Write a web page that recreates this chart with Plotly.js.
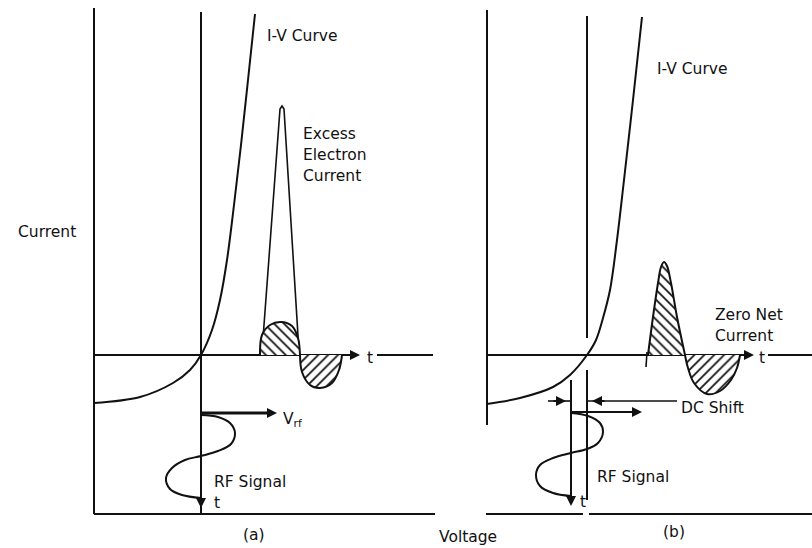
<!DOCTYPE html>
<html>
<head>
<meta charset="utf-8">
<script src="https://cdn.plot.ly/plotly-3.0.1.min.js"></script>
<style>html,body{margin:0;padding:0;background:#fff;}#chart{width:812px;height:548px;}</style>
</head>
<body>
<div id="chart"></div>
<script>
// Diagram coordinates (x to the right, y downward)
// ---------- Panel (a) ----------
const frameA_x = [94, 94, null, 201, 201, null, 94, 435];
const frameA_y = [8, 514, null, 12, 514, null, 514, 514];
const axisA_x = [94, 352, null, 377, 433];
const axisA_y = [355, 355, null, 355, 355];
const ivA_x = [94, 140, 173, 190, 201, 212, 220, 227, 234, 241, 248, 255];
const ivA_y = [403, 397, 383, 370, 355, 330, 300, 260, 205, 145, 80, 14];
const peakA_x = [262, 280, 282, 284, 299];
const peakA_y = [352, 109, 106, 109, 352];
const posLobeA_x = [260, 262, 270, 281, 292, 298, 300];
const posLobeA_y = [355, 335, 325, 322, 326, 338, 355];
const negLobeA_x = [300, 302, 310, 320, 332, 339, 342];
const negLobeA_y = [355, 372, 385, 388, 383, 370, 355];
const rfA_x = [201, 218, 230, 235, 231, 218, 201, 185, 172, 166, 170, 182, 201];
const rfA_y = [415, 417, 423, 433, 444, 451, 456, 460, 468, 478, 489, 495, 498];
const vrfA_x = [201, 270];
const vrfA_y = [413, 413];

// ---------- Panel (b) ----------
const frameB_x = [487, 487, null, 587, 587, null, 587, 587, null, 571, 571, null, 486, 583, null, 589, 812];
const frameB_y = [10, 425, null, 16, 338, null, 370, 500, null, 380, 498, null, 514, 514, null, 514, 514];
const axisB_x = [487, 746, null, 768, 812];
const axisB_y = [355, 355, null, 355, 355];
const ivB_x = [487, 520, 553, 570, 587, 596, 603, 610, 617, 624, 633, 642];
const ivB_y = [404, 398, 387, 375, 355, 340, 318, 290, 240, 180, 100, 17];
const posPeakB_x = [648, 653, 658, 661, 664, 667, 671, 677, 685];
const posPeakB_y = [355, 317, 283, 267, 262, 266, 283, 317, 355];
const tickB_x = [647, 646];
const tickB_y = [352, 367];
const negLobeB_x = [685, 688, 694, 707, 720, 731, 737, 740];
const negLobeB_y = [355, 368, 383, 394, 391, 380, 368, 355];
const rfB_x = [571, 588, 600, 603, 598, 587, 571, 553, 540, 536, 540, 553, 571];
const rfB_y = [413, 416, 423, 432, 443, 449, 453, 458, 465, 475, 486, 493, 496];
const dcShift_x = [548, 571, null, 587, 677];
const dcShift_y = [401, 401, null, 401, 401];
const vrfB_x = [571, 636];
const vrfB_y = [412, 412];

// ---------- Texts ----------
const labelText = ["I-V Curve", "Excess", "Electron", "Current", "V<sub>rf</sub>", "RF Signal", "t", "t",
                   "I-V Curve", "Zero Net", "Current", "DC Shift", "RF Signal", "t", "t",
                   "Current"];
const labelX = [265, 301, 301, 301, 281, 212, 212, 365,
                655, 713, 713, 679, 595, 578, 757,
                16];
const labelY = [36, 134, 155, 176, 420, 482, 503, 358,
                69, 315, 336, 408, 477, 502, 358,
                232];
const captionText = ["(a)", "(b)", "Voltage"];
const captionX = [254, 674, 468];
const captionY = [535, 532, 537];

// Arrow tips and tails
const arrowTipX = [360, 754, 277, 642, 201, 571, 566, 592];
const arrowTipY = [355, 355, 413, 412, 508, 506, 401, 401];
const arrowTailX = [345, 740, 262, 628, 201, 571, 552, 606];
const arrowTailY = [355, 355, 413, 412, 497, 495, 401, 401];

const ink = "#111";
function line(x, y, w, shape) {
  return {x: x, y: y, mode: "lines", type: "scatter", hoverinfo: "skip", showlegend: false,
          line: {color: ink, width: w, shape: shape || "linear", smoothing: 1}};
}
function hatch(x, y, shp) {
  return {x: x, y: y, mode: "lines", type: "scatter", hoverinfo: "skip", showlegend: false,
          fill: "toself", fillcolor: "white",
          fillpattern: {shape: shp, fgcolor: ink, bgcolor: "white", size: 7, solidity: 0.25},
          line: {color: ink, width: 2, shape: "spline", smoothing: 1}};
}

const traces = [
  line(frameA_x, frameA_y, 2),
  line(axisA_x, axisA_y, 2),
  line(ivA_x, ivA_y, 2, "spline"),
  line(peakA_x, peakA_y, 1.6),
  hatch(posLobeA_x, posLobeA_y, "\\"),
  hatch(negLobeA_x, negLobeA_y, "/"),
  line(rfA_x, rfA_y, 2, "spline"),
  line(vrfA_x, vrfA_y, 3),
  line(frameB_x, frameB_y, 2),
  line(axisB_x, axisB_y, 2),
  line(ivB_x, ivB_y, 2, "spline"),
  hatch(posPeakB_x, posPeakB_y, "\\"),
  line(tickB_x, tickB_y, 1.6),
  hatch(negLobeB_x, negLobeB_y, "/"),
  line(rfB_x, rfB_y, 2, "spline"),
  line(dcShift_x, dcShift_y, 1.6),
  line(vrfB_x, vrfB_y, 2)
];

const font = {family: "DejaVu Sans, Liberation Sans, Arial, sans-serif", size: 15.5, color: ink};
const annotations = [];
labelText.forEach((t, i) => annotations.push({
  x: labelX[i], y: labelY[i], xref: "x", yref: "y", text: t, showarrow: false,
  xanchor: "left", yanchor: "middle", font: font
}));
captionText.forEach((t, i) => annotations.push({
  x: captionX[i], y: captionY[i], xref: "x", yref: "y", text: t, showarrow: false,
  xanchor: "center", yanchor: "middle", font: font
}));
arrowTipX.forEach((x, i) => annotations.push({
  x: x, y: arrowTipY[i], ax: arrowTailX[i], ay: arrowTailY[i], xref: "x", yref: "y",
  axref: "x", ayref: "y", text: "", showarrow: true, arrowhead: 2, arrowsize: 1,
  arrowwidth: 2, arrowcolor: ink, standoff: 0
}));

const layout = {
  width: 812, height: 548,
  margin: {l: 0, r: 0, t: 0, b: 0},
  paper_bgcolor: "white", plot_bgcolor: "white",
  showlegend: false,
  xaxis: {range: [0, 812], visible: false, fixedrange: true},
  yaxis: {range: [548, 0], visible: false, fixedrange: true},
  annotations: annotations
};

Plotly.newPlot("chart", traces, layout, {displayModeBar: false, staticPlot: true});
</script>
</body>
</html>
